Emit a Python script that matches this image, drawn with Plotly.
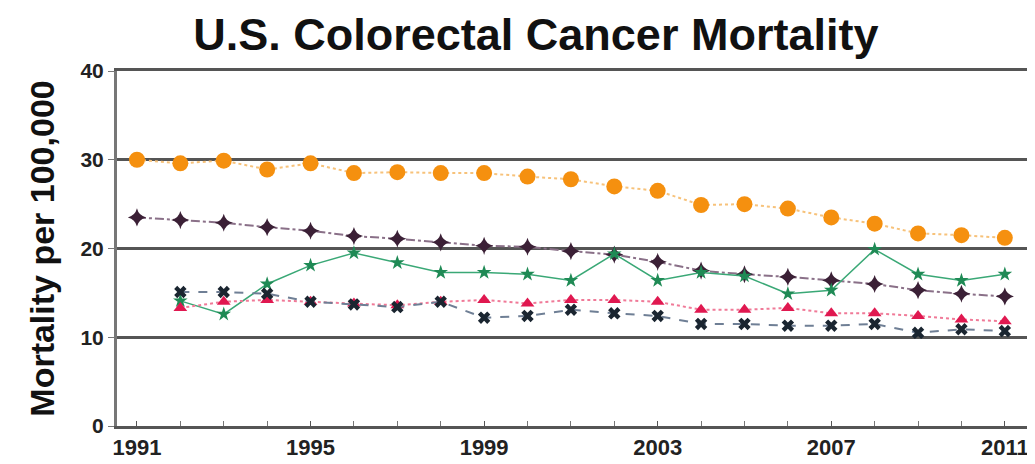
import plotly.graph_objects as go

years = list(range(1991, 2012))
years_b = list(range(1992, 2012))

orange_vals = [30.0, 29.6, 29.9, 28.9, 29.6, 28.5, 28.6, 28.5, 28.5, 28.1, 27.8,
               27.0, 26.5, 24.9, 25.0, 24.5, 23.5, 22.8, 21.7, 21.5, 21.2]
purple_vals = [23.5, 23.2, 22.9, 22.4, 22.0, 21.4, 21.1, 20.7, 20.3, 20.2, 19.7,
               19.3, 18.5, 17.5, 17.1, 16.8, 16.4, 16.0, 15.3, 14.9, 14.6]
green_vals = [14.1, 12.6, 16.0, 18.1, 19.5, 18.4, 17.3, 17.3, 17.1, 16.4,
              19.4, 16.4, 17.3, 16.9, 14.9, 15.3, 19.9, 17.1, 16.4, 17.1]
red_vals = [13.3, 14.0, 14.2, 14.0, 13.8, 13.6, 14.0, 14.2, 13.8, 14.2,
            14.2, 14.0, 13.1, 13.1, 13.3, 12.7, 12.7, 12.4, 12.0, 11.8]
xmark_vals = [15.1, 15.1, 14.9, 14.0, 13.7, 13.4, 14.0, 12.2, 12.4, 13.1,
              12.7, 12.4, 11.5, 11.5, 11.3, 11.3, 11.5, 10.5, 10.9, 10.7]

tick_years = [1991, 1995, 1999, 2003, 2007, 2011]
y_ticks = [0, 10, 20, 30, 40]

fig = go.Figure()

fig.add_trace(go.Scatter(
    x=years, y=orange_vals, mode="lines+markers",
    line=dict(color="#f7c27a", width=2, dash="dot"),
    marker=dict(symbol="circle", size=16, color="#f5900f", line=dict(width=0)),
    showlegend=False))
fig.add_trace(go.Scatter(
    x=years, y=purple_vals, mode="lines+markers",
    line=dict(color="#8a7088", width=2, dash="dashdot"),
    marker=dict(symbol="star-diamond", size=13, color="#3b2036", line=dict(width=0)),
    showlegend=False))
fig.add_trace(go.Scatter(
    x=years_b, y=green_vals, mode="lines+markers",
    line=dict(color="#3aa876", width=1.5),
    marker=dict(symbol="star", size=11, color="#1f8a55", line=dict(width=0)),
    showlegend=False))
fig.add_trace(go.Scatter(
    x=years_b, y=red_vals, mode="lines+markers",
    line=dict(color="#f07a98", width=2, dash="dot"),
    marker=dict(symbol="triangle-up", size=12, color="#e01850", line=dict(width=0)),
    showlegend=False))
fig.add_trace(go.Scatter(
    x=years_b, y=xmark_vals, mode="lines+markers",
    line=dict(color="#6f7f95", width=2, dash="dash"),
    marker=dict(symbol="x", size=11, color="#1a2530", line=dict(width=0)),
    showlegend=False))

fig.update_layout(
    width=1035, height=464,
    margin=dict(l=109, r=13, t=63, b=41),
    paper_bgcolor="white", plot_bgcolor="white",
    title=dict(text="U.S. Colorectal Cancer Mortality", x=0.51, xref="container",
               xanchor="center", y=(464 - 26) / 464, yref="container", yanchor="middle",
               font=dict(family="Liberation Sans, Arial, sans-serif", size=45,
                         color="#111", weight=700)),
    font=dict(family="Liberation Sans, Arial, sans-serif", color="#222"),
)

fig.update_xaxes(
    range=[1990.54, 2011.58],
    tickvals=tick_years, ticktext=[str(y) for y in tick_years],
    tickfont=dict(size=22, weight=700, color="#222"),
    ticks="inside", ticklen=5, tickcolor="#555",
    minor=dict(dtick=1, tick0=1991, ticks="inside", ticklen=5, tickcolor="#777"),
    showgrid=False, zeroline=False,
    showline=True, linecolor="#555", linewidth=3, mirror=True,
)
fig.update_yaxes(
    range=[0, 40], tickvals=y_ticks,
    tickfont=dict(size=21, weight=700, color="#222"),
    ticks="outside", ticklen=6, tickcolor="#777",
    showgrid=True, gridcolor="#555", gridwidth=3,
    zeroline=False, showline=True, linecolor="#777", linewidth=3,
    title=dict(text="Mortality per 100,000", standoff=16,
               font=dict(size=34, weight=700, color="#111")),
)

fig.write_html("out.html")
